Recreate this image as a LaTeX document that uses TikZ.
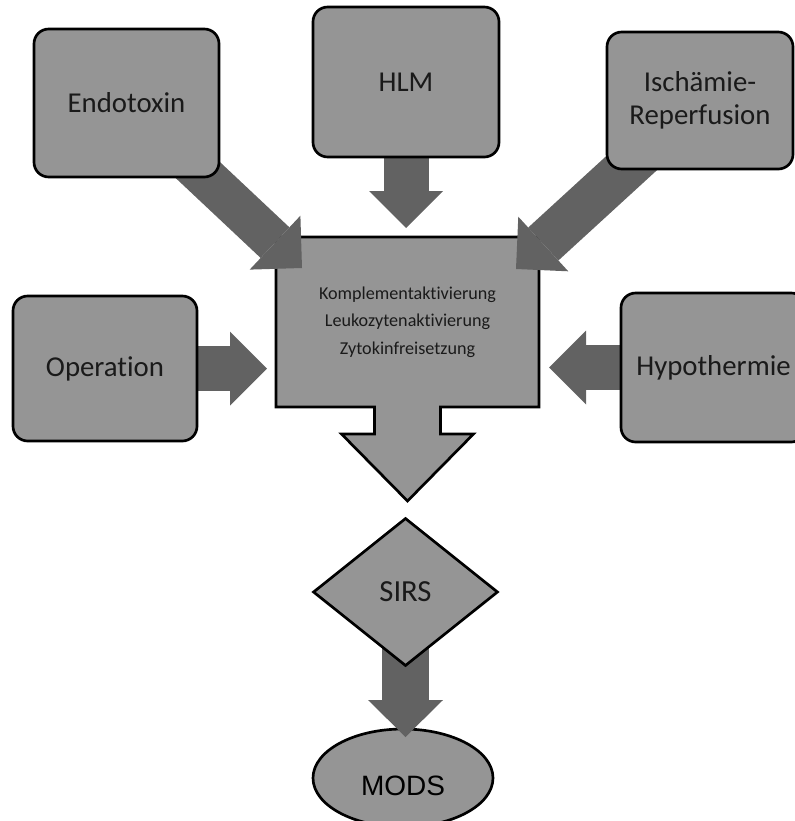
\documentclass[tikz,border=0pt]{standalone}
\usepackage{fontspec}
\setmainfont{Carlito}[Ligatures=NoCommon]
\newfontfamily\arialf{Liberation Sans}
\usetikzlibrary{arrows.meta,shapes.geometric,calc}
\pgfdeclarelayer{back}
\pgfdeclarelayer{mid}
\pgfsetlayers{back,mid,main}
\definecolor{boxgray}{HTML}{959595}
\definecolor{arrgray}{HTML}{626262}
\definecolor{txt}{HTML}{1A1A1A}
\begin{document}
\begin{tikzpicture}[x=0.75pt,y=-0.75pt,
  src/.style={draw=black, line width=2pt, fill=boxgray, rounded corners=11pt,
    text=txt, font=\fontsize{21.6}{25}\selectfont, align=center, inner sep=0pt},
  fat/.style={arrgray, line width=#1,
    -{Triangle[width=55.5pt,length=27.75pt,line width=0pt]}},
  fat/.default=33.75pt]
\useasboundingbox (0,0) rectangle (795,821);

% source boxes
\node[src, minimum width=138.75pt, minimum height=111pt] (endo) at (126.5,103) {Endotoxin};
\node[src, minimum width=139.5pt, minimum height=112.5pt] (hlm) at (406,82) {HLM};
\node[src, minimum width=139.5pt, minimum height=102.75pt] (isch) at (700,100.5) {Ischämie-\\Reperfusion};
\node[src, minimum width=138pt, minimum height=108.75pt] (op) at (105,368.5) {Operation};
\node[src, minimum width=138.75pt, minimum height=111.75pt] (hypo) at (713.5,367.5) {Hypothermie};

% central box
\node[text=txt, align=center, font=\fontsize{13.6}{20.6}\selectfont,
  minimum width=197.25pt, minimum height=127.5pt, inner sep=0pt, outer sep=0pt]
  (mech) at (407.5,322) {Komplementaktivierung\\Leukozytenaktivierung\\Zytokinfreisetzung};

% SIRS diamond
\node[diamond, draw=black, line width=2pt, fill=boxgray, minimum width=138.75pt,
  minimum height=111pt, inner sep=0pt, text=txt, font=\fontsize{23}{27}\selectfont]
  (sirs) at (405.5,592) {SIRS};

\begin{pgfonlayer}{back}
\draw[draw=black, line width=2pt, fill=boxgray, line join=miter]
  (mech.north west) -- (mech.north east) -- (mech.south east)
  -- ($(mech.south)+(33,0)$) -- ($(mech.south)+(33,27)$) -- ($(mech.south)+(66,27)$)
  -- ($(mech.south)+(0,94)$) -- ($(mech.south)+(-66,27)$) -- ($(mech.south)+(-33,27)$)
  -- ($(mech.south)+(-33,0)$) -- (mech.south west) -- cycle;
\node[ellipse, draw=black, line width=2pt, fill=boxgray, minimum width=135pt,
  minimum height=73.5pt, inner sep=0pt, text=black,
  font=\arialf\fontsize{21}{25}\selectfont]
  (mods) at (403,778) {\raisebox{-12.75pt}[0pt][0pt]{MODS}};
\end{pgfonlayer}

% arrow tips
\coordinate (tEndo) at (302,268);
\coordinate (tHlm) at (406,228);
\coordinate (tIsch) at (516,269);
\coordinate (tOp) at (267,368.5);
\coordinate (tHypo) at (549,367.5);
\coordinate (tMods) at (405.5,737);

\begin{pgfonlayer}{mid}
\draw[fat=31.5pt] (endo.center) -- (tEndo);
\draw[fat] (hlm.center) -- (tHlm);
\draw[fat=33.5pt] (isch.center) -- (tIsch);
\draw[fat] (op.center) -- (tOp);
\draw[fat] (hypo.center) -- (tHypo);
\draw[arrgray, line width=35.25pt,
  -{Triangle[width=56.25pt,length=27.75pt,line width=0pt]}] (sirs.center) -- (tMods);
\end{pgfonlayer}
\end{tikzpicture}
\end{document}
